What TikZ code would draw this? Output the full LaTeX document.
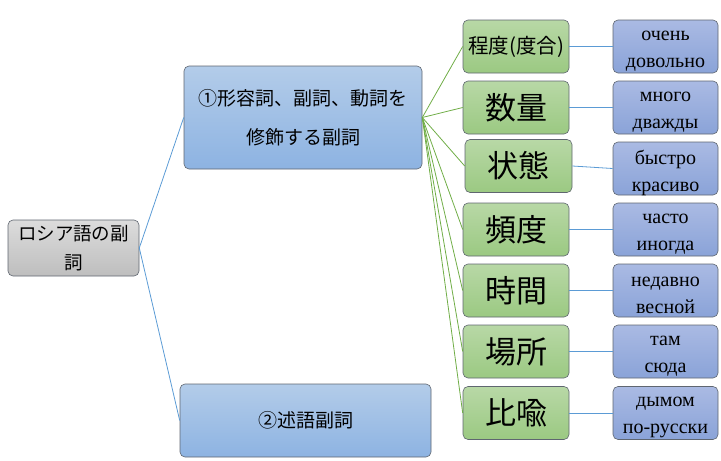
\documentclass[tikz,border=0pt]{standalone}
\usepackage{fontspec}
\setmainfont{Liberation Serif}
\newfontfamily\jp{Noto Sans CJK JP}
\definecolor{grnline}{HTML}{70AD47}
\definecolor{bluline}{HTML}{5B9BD5}
\definecolor{grntop}{HTML}{B8D8A6}
\definecolor{grnbot}{HTML}{9BC982}
\definecolor{b1top}{HTML}{B3CCE9}
\definecolor{b1bot}{HTML}{8DB3E2}
\definecolor{b2top}{HTML}{AABAE3}
\definecolor{b2bot}{HTML}{8AA3D8}
\definecolor{gtop}{HTML}{DCDCDC}
\definecolor{gbot}{HTML}{BEBEBE}
\definecolor{brd}{HTML}{5F6670}
\begin{document}
\begin{tikzpicture}[x=1pt,y=-1pt,
  base/.style={rectangle,rounded corners=5pt,draw=brd,line width=0.6pt,inner sep=0pt,align=center},
  rootbox/.style={base,top color=gtop,bottom color=gbot,minimum width=131pt,minimum height=56pt,font=\jp\fontsize{18.5}{29}\selectfont},
  mainbox/.style={base,top color=b1top,bottom color=b1bot,font=\jp\fontsize{19}{39}\selectfont},
  catbox/.style={base,top color=grntop,bottom color=grnbot,minimum width=106pt,minimum height=53pt,font=\jp\fontsize{31}{34}\selectfont},
  exbox/.style={base,top color=b2top,bottom color=b2bot,minimum width=105pt,minimum height=53pt},
  extext/.style={inner sep=0pt,align=center,font=\fontsize{20}{27}\selectfont,yshift=-4.5pt},
  gline/.style={draw=grnline,line width=0.8pt},
  bline/.style={draw=bluline,line width=0.8pt}]
\useasboundingbox (0,0) rectangle (721,461);
\node[rootbox] (root) at (73.5,248) {ロシア語の副\\詞};
\node[mainbox,minimum width=238pt,minimum height=103pt] (m1) at (303,117.5) {①形容詞、副詞、動詞を\\修飾する副詞};
\node[mainbox,minimum width=251pt,minimum height=73pt] (m2) at (305.5,420.5) {②述語副詞};
\node[catbox,font=\jp\fontsize{20.5}{24}\selectfont] (c1) at (516,46.5) {程度(度合)};
\node[catbox] (c2) at (516,107.5) {数量};
\node[catbox,minimum width=107pt] (c3) at (518.5,166) {状態};
\node[catbox] (c4) at (516,229.5) {頻度};
\node[catbox] (c5) at (516,290.5) {時間};
\node[catbox] (c6) at (516,351.5) {場所};
\node[catbox] (c7) at (516,413) {比喩};
\node[exbox] (e1) at (665.5,46.5) {};
\node[exbox] (e2) at (665.5,107.5) {};
\node[exbox] (e3) at (665.5,168.5) {};
\node[exbox] (e4) at (665.5,229.5) {};
\node[exbox] (e5) at (665.5,290.5) {};
\node[exbox] (e6) at (665.5,351.5) {};
\node[exbox] (e7) at (665.5,413) {};
\node[extext] (t1) at (e1) {очень\\довольно};
\node[extext] (t2) at (e2) {много\\дважды};
\node[extext] (t3) at (e3) {быстро\\красиво};
\node[extext] (t4) at (e4) {часто\\иногда};
\node[extext] (t5) at (e5) {недавно\\весной};
\node[extext] (t6) at (e6) {там\\сюда};
\node[extext] (t7) at (e7) {дымом\\по-русски};
\draw[bline] (root.east) -- (m1.west);
\draw[bline] (root.east) -- (m2.west);
\foreach \i in {1,...,7}{
  \draw[gline] (m1.east) -- (c\i.west);
  \draw[bline] (c\i.east) -- (e\i.west);
}
\end{tikzpicture}
\end{document}
